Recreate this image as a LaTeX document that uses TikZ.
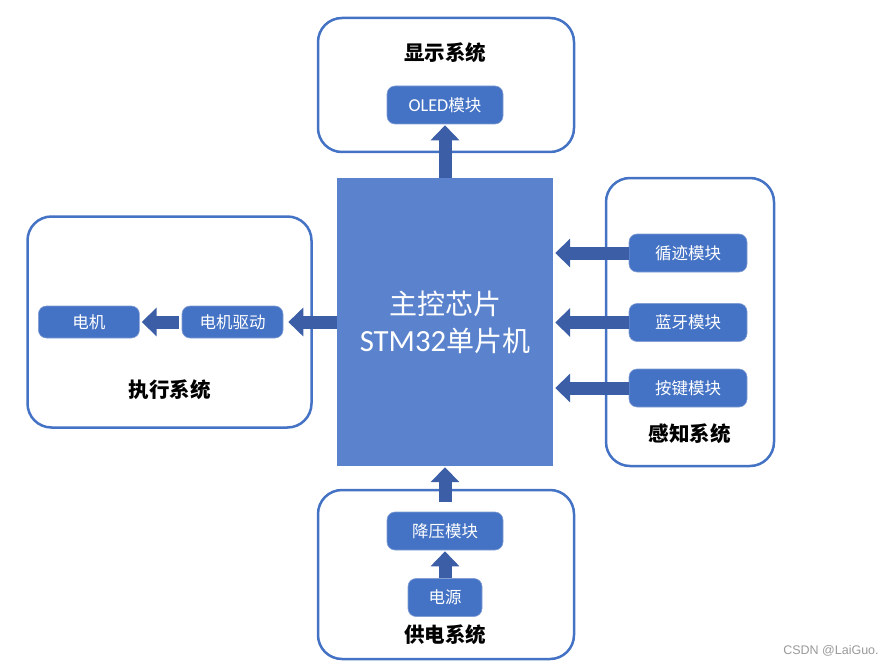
\documentclass[tikz,border=0pt]{standalone}
\usepackage{fontspec}
\setmainfont{Noto Sans CJK SC}
\newfontfamily\lat[Scale=1.1]{Carlito}
\newfontfamily\wmfont{Liberation Sans}
\usepackage{xcolor}
\usetikzlibrary{arrows.meta,positioning}
\definecolor{sysblue}{RGB}{68,114,196}
\definecolor{modblue}{RGB}{68,114,196}
\definecolor{modedge}{RGB}{130,158,212}
\definecolor{mcublue}{RGB}{91,131,205}
\definecolor{arrowblue}{RGB}{59,94,167}

\begin{document}
\begin{tikzpicture}[
    x=1pt, y=-1pt,
    system/.style={rectangle, draw=sysblue, line width=2.5pt, rounded corners=24pt, fill=white},
    title/.style={font=\bfseries\fontsize{20.5}{24}\selectfont},
    module/.style={rectangle, draw=modedge, line width=0.6pt, fill=modblue, rounded corners=8pt, text=white, inner sep=0pt, font=\fontsize{16.5}{19}\selectfont},
    mcu/.style={rectangle, fill=mcublue, text=white, align=center, font=\fontsize{28}{37}\selectfont},
    line/.style={draw=arrowblue, line width=13pt, -{Triangle[length=15pt, width=28pt]}}
]
\useasboundingbox (0,0) rectangle (886,666);

\node [system, minimum width=256pt, minimum height=134pt] (display) at (446,85) {};
\node [system, minimum width=284pt, minimum height=211pt] (exec) at (169.5,322) {};
\node [system, minimum width=168pt, minimum height=288pt] (sense) at (690,322) {};
\node [system, minimum width=256pt, minimum height=169pt] (power) at (446,574.5) {};

\node [mcu, minimum width=216pt, minimum height=288pt] (main) at (445,322) {主控芯片\\{\lat STM32}单片机};

\node [title] (displaytitle) at (445,53) {显示系统};
\node [title] (exectitle) at (169.5,390) {执行系统};
\node [title] (sensetitle) at (689.5,434) {感知系统};
\node [title] (powertitle) at (445,635) {供电系统};

\node [module, minimum width=116pt, minimum height=38pt] (oled) at (445,105) {{\lat OLED}模块};
\node [module, minimum width=101pt, minimum height=32pt] (driver) at (232.5,322) {电机驱动};
\node [module, minimum width=101pt, minimum height=32pt, left=42pt of driver] (motor) {电机};
\node [module, minimum width=118pt, minimum height=38pt] (track) at (688,253) {循迹模块};
\node [module, minimum width=118pt, minimum height=38pt] (bluetooth) at (688,322.5) {蓝牙模块};
\node [module, minimum width=118pt, minimum height=38pt] (keys) at (688,388) {按键模块};
\node [module, minimum width=116pt, minimum height=38pt] (buck) at (445,531) {降压模块};
\node [module, minimum width=74pt, minimum height=38pt] (source) at (445,597.5) {电源};

\path [line, shorten >=1pt] (main.north) -- (oled.south);
\path [line, shorten >=5pt] (main.west) -- (driver.east);
\path [line, shorten <=3pt, shorten >=2pt] (driver.west) -- (motor.east);
\path [line, shorten >=2pt] (track.west) -- (track.west -| main.east);
\path [line, shorten >=2pt] (bluetooth.west) -- (bluetooth.west -| main.east);
\path [line, shorten >=2pt] (keys.west) -- (keys.west -| main.east);
\path [line, shorten <=10pt, shorten >=1pt] (buck.north) -- (main.south);
\path [line, shorten >=1pt] (source.north) -- (buck.south);

\node [font=\wmfont\fontsize{12.5}{14}\selectfont, text=gray!80] (mark) at (831,651) {CSDN @LaiGuo.};
\end{tikzpicture}
\end{document}
